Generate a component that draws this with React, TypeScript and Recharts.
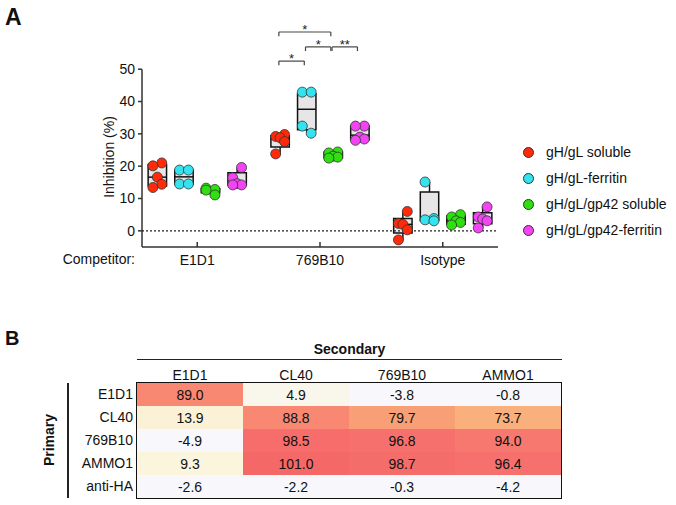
import React from "react";
import { ComposedChart, ScatterChart, Scatter, XAxis, YAxis, ReferenceLine, ReferenceArea } from "recharts";

const FONT = "'Liberation Sans', Arial, sans-serif";

// ---- panel A data ----
const competitors = ["E1D1", "769B10", "Isotype"];
const seriesNames = ["gH/gL soluble", "gH/gL-ferritin", "gH/gL/gp42 soluble", "gH/gL/gp42-ferritin"];
const seriesColors = ["#ff2a0a", "#33e3f0", "#2ee010", "#f244f2"];
const yTicks = [0, 10, 20, 30, 40, 50];

// replicate values, one list per competitor
const gHgLSoluble = [[21.0, 20.1, 16.6, 14.4, 13.4], [29.8, 29.2, 28.8, 27.6, 23.8], [6.0, 2.3, 2.0, 0.3, -2.8]];
const gHgLFerritin = [[18.8, 18.8, 14.5, 14.5], [42.9, 42.9, 32.4, 30.2], [15.1, 3.8, 3.4, 3.1]];
const gp42Soluble = [[13.2, 12.8, 12.6, 11.1], [24.4, 24.1, 23.1, 22.8, 22.5], [5.0, 4.3, 3.1, 2.6, 1.8]];
const gp42Ferritin = [[19.6, 16.4, 14.6, 14.2, 14.2], [32.4, 32.4, 29.0, 28.4, 28.0], [7.4, 4.3, 3.7, 3.1, 0.9]];

// box stats: [min, q1, median, q3, max]
const gHgLSolubleBox = [[13.4, 13.9, 16.6, 20.5, 21.0], [23.8, 25.9, 28.4, 29.4, 29.8], [-2.8, -0.7, 2.0, 3.8, 6.0]];
const gHgLFerritinBox = [[14.5, 14.5, 16.7, 18.8, 18.8], [30.2, 31.3, 37.6, 42.4, 42.9], [3.1, 3.2, 3.6, 12.0, 15.1]];
const gp42SolubleBox = [[11.1, 11.8, 12.7, 13.0, 13.2], [22.5, 22.6, 23.3, 24.3, 24.4], [1.8, 2.0, 3.1, 4.6, 5.0]];
const gp42FerritinBox = [[14.2, 14.2, 14.6, 18.0, 19.6], [28.0, 28.2, 29.6, 32.4, 32.4], [0.9, 2.2, 4.0, 5.6, 7.4]];

const seriesPoints = [gHgLSoluble, gHgLFerritin, gp42Soluble, gp42Ferritin];
const seriesBoxes = [gHgLSolubleBox, gHgLFerritinBox, gp42SolubleBox, gp42FerritinBox];

// significance brackets (769B10 group)
const brackets = [
  { group: 1, from: 0, to: 1, level: 52.5, label: "*" },
  { group: 1, from: 1, to: 2, level: 56.9, label: "*" },
  { group: 1, from: 2, to: 3, level: 56.9, label: "**" },
  { group: 1, from: 0, to: 2, level: 61.5, label: "*" },
];

// ---- panel B data ----
const secondary = ["E1D1", "CL40", "769B10", "AMMO1"];
const primary = ["E1D1", "CL40", "769B10", "AMMO1", "anti-HA"];
const competition = [
  [89.0, 4.9, -3.8, -0.8],
  [13.9, 88.8, 79.7, 73.7],
  [-4.9, 98.5, 96.8, 94.0],
  [9.3, 101.0, 98.7, 96.4],
  [-2.6, -2.2, -0.3, -4.2],
];

const OFFSETS = [-0.325, -0.108, 0.108, 0.325];
const HALF_BOX = 0.075;
const JIT = 0.036;
const jitterFor = (n: number, i: number) => (n === 4 ? [-1, 1, -1, 1] : [1, -1, 0, 1, -1])[i] * JIT;

const pointData = seriesPoints.map((groups, s) =>
  groups.flatMap((vals, g) => vals.map((v, i) => ({ x: g + OFFSETS[s] + jitterFor(vals.length, i), y: v })))
);

const heatStops: [number, number[]][] = [
  [0, [248, 248, 252]],
  [10, [251, 245, 220]],
  [50, [250, 205, 160]],
  [74, [249, 176, 124]],
  [80, [248, 158, 118]],
  [89, [248, 136, 114]],
  [96, [246, 114, 110]],
  [101, [245, 104, 104]],
];
const heatColor = (v: number) => {
  if (v <= heatStops[0][0]) return `rgb(${heatStops[0][1].join(",")})`;
  for (let i = 1; i < heatStops.length; i++) {
    const [v1, c1] = heatStops[i];
    const [v0, c0] = heatStops[i - 1];
    if (v <= v1) {
      const t = (v - v0) / (v1 - v0);
      return `rgb(${c0.map((c, k) => Math.round(c + (c1[k] - c) * t)).join(",")})`;
    }
  }
  return `rgb(${heatStops[heatStops.length - 1][1].join(",")})`;
};

const heatData = competition.flatMap((row, r) => row.map((value, c) => ({ col: c, row: r, value })));

const CELL_W = 106;
const CELL_H = 23;

const HeatCell = (props: any) => {
  const { cx, cy, payload } = props;
  return (
    <g>
      <rect x={cx - CELL_W / 2} y={cy - CELL_H / 2} width={CELL_W + 0.5} height={CELL_H + 0.5} fill={heatColor(payload.value)} />
      <text x={cx} y={cy} dy="0.36em" textAnchor="middle" fontSize={14} fill="#111" fontFamily={FONT}>
        {payload.value.toFixed(1)}
      </text>
    </g>
  );
};

const BoxPlotA = () => (
  <ComposedChart width={520} height={270} margin={{ top: 11, right: 22, bottom: 3, left: 0 }}>
    <XAxis
      type="number"
      dataKey="x"
      domain={[-0.45, 2.45]}
      allowDataOverflow
      ticks={[0, 1, 2]}
      interval={0}
      tickFormatter={(i: number) => competitors[i]}
      height={20}
      tickSize={-5}
      tickMargin={13}
      stroke="#333"
      strokeWidth={1.5}
      tick={{ fill: "#111", fontSize: 14 }}
    />
    <YAxis
      type="number"
      dataKey="y"
      domain={[-5, 68]}
      allowDataOverflow
      ticks={yTicks}
      interval={0}
      width={142}
      axisLine={false}
      tickSize={4}
      tickMargin={3}
      tickLine={{ stroke: "#333", strokeWidth: 1.5 }}
      tick={{ fill: "#111", fontSize: 14 }}
    />
    <ReferenceLine segment={[{ x: -0.45, y: -5 }, { x: -0.45, y: 50 }]} stroke="#333" strokeWidth={1.5} ifOverflow="visible" />
    <ReferenceLine y={0} stroke="#222" strokeDasharray="2 2" strokeWidth={1.2} />
    {seriesBoxes.flatMap((groups, s) =>
      groups.map(([mn, q1, md, q3, mx], g) => {
        const cx = g + OFFSETS[s];
        return (
          <React.Fragment key={`box-${s}-${g}`}>
            <ReferenceLine segment={[{ x: cx, y: mn }, { x: cx, y: q1 }]} stroke="#111" strokeWidth={1.5} />
            <ReferenceLine segment={[{ x: cx, y: q3 }, { x: cx, y: mx }]} stroke="#111" strokeWidth={1.5} />
            <ReferenceArea x1={cx - HALF_BOX} x2={cx + HALF_BOX} y1={q1} y2={q3} fill="#e6e6e6" fillOpacity={1} stroke="#111" strokeWidth={1.5} />
            <ReferenceLine segment={[{ x: cx - HALF_BOX, y: md }, { x: cx + HALF_BOX, y: md }]} stroke="#111" strokeWidth={1.5} />
          </React.Fragment>
        );
      })
    )}
    {pointData.map((pts, s) => (
      <Scatter
        key={seriesNames[s]}
        name={seriesNames[s]}
        data={pts}
        isAnimationActive={false}
        shape={(p: any) => <circle cx={p.cx} cy={p.cy} r={5} fill={seriesColors[s]} stroke="#333" strokeWidth={0.8} />}
      />
    ))}
    {brackets.map((b, i) => {
      const x1 = b.group + OFFSETS[b.from] - 0.01;
      const x2 = b.group + OFFSETS[b.to] - 0.02;
      return (
        <React.Fragment key={`br-${i}`}>
          <ReferenceLine
            segment={[{ x: x1, y: b.level }, { x: x2, y: b.level }]}
            stroke="#444"
            strokeWidth={1.2}
            label={{ value: b.label, position: "top", offset: -2, fontSize: 13, fill: "#222" }}
          />
          <ReferenceLine segment={[{ x: x1, y: b.level }, { x: x1, y: b.level - 1.3 }]} stroke="#444" strokeWidth={1.2} />
          <ReferenceLine segment={[{ x: x2, y: b.level }, { x: x2, y: b.level - 1.3 }]} stroke="#444" strokeWidth={1.2} />
        </React.Fragment>
      );
    })}
  </ComposedChart>
);

const HeatmapB = () => (
  <ScatterChart width={600} height={165} margin={{ top: 13, right: 39, bottom: 7, left: 0 }}>
    <XAxis
      type="number"
      dataKey="col"
      orientation="top"
      domain={[-0.5, 3.5]}
      allowDataOverflow
      ticks={[0, 1, 2, 3]}
      interval={0}
      tickFormatter={(i: number) => secondary[i]}
      height={30}
      axisLine={false}
      tickLine={false}
      tickSize={0}
      tickMargin={3}
      tick={{ fill: "#111", fontSize: 14 }}
    />
    <YAxis
      type="number"
      dataKey="row"
      reversed
      domain={[-0.5, 4.5]}
      allowDataOverflow
      ticks={[0, 1, 2, 3, 4]}
      interval={0}
      tickFormatter={(i: number) => primary[i]}
      width={137}
      axisLine={false}
      tickLine={false}
      tickSize={0}
      tickMargin={4}
      tick={{ fill: "#111", fontSize: 14 }}
    />
    <Scatter data={heatData} isAnimationActive={false} shape={HeatCell} />
    <ReferenceArea x1={-0.5} x2={3.5} y1={-0.5} y2={4.5} fill="none" stroke="#111" strokeWidth={2} ifOverflow="visible" />
  </ScatterChart>
);

export default function App() {
  return (
    <div style={{ position: "absolute", left: 0, top: 0, width: 676, height: 505, fontFamily: FONT, color: "#111", background: "#fff" }}>
      <div style={{ position: "absolute", left: 5, top: 5, fontSize: 23, lineHeight: "24px", fontWeight: "bold" }}>A</div>
      <div style={{ position: "absolute", left: 0, top: 0 }}>
        <BoxPlotA />
      </div>
      <div
        style={{
          position: "absolute",
          left: 109,
          top: 157,
          transform: "translate(-50%, -50%) rotate(-90deg)",
          whiteSpace: "nowrap",
          fontSize: 14,
          lineHeight: "16px",
        }}
      >
        Inhibition (%)
      </div>
      <div style={{ position: "absolute", left: 0, width: 135, top: 251, textAlign: "right", fontSize: 14, lineHeight: "16px" }}>Competitor:</div>
      <div style={{ position: "absolute", left: 523, top: 139 }}>
        {seriesNames.map((n, i) => (
          <div key={n} style={{ display: "flex", alignItems: "center", height: 26 }}>
            <span
              style={{
                display: "inline-block",
                width: 9,
                height: 9,
                borderRadius: "50%",
                background: seriesColors[i],
                border: "0.8px solid #333",
                marginRight: 12,
              }}
            />
            <span style={{ fontSize: 14, whiteSpace: "nowrap" }}>{n}</span>
          </div>
        ))}
      </div>

      <div style={{ position: "absolute", left: 5, top: 328, fontSize: 20, lineHeight: "20px", fontWeight: "bold" }}>B</div>
      <div
        style={{
          position: "absolute",
          left: 137,
          width: 425,
          top: 341,
          height: 19,
          textAlign: "center",
          fontSize: 14,
          lineHeight: "16px",
          fontWeight: "bold",
          borderBottom: "1.5px solid #222",
          boxSizing: "border-box",
        }}
      >
        Secondary
      </div>
      <div
        style={{
          position: "absolute",
          left: 49,
          top: 440,
          transform: "translate(-50%, -50%) rotate(-90deg)",
          whiteSpace: "nowrap",
          fontSize: 14,
          lineHeight: "16px",
          fontWeight: "bold",
        }}
      >
        Primary
      </div>
      <div style={{ position: "absolute", left: 67, top: 383, width: 1.5, height: 115, background: "#222" }} />
      <div style={{ position: "absolute", left: 0, top: 340 }}>
        <HeatmapB />
      </div>
    </div>
  );
}
